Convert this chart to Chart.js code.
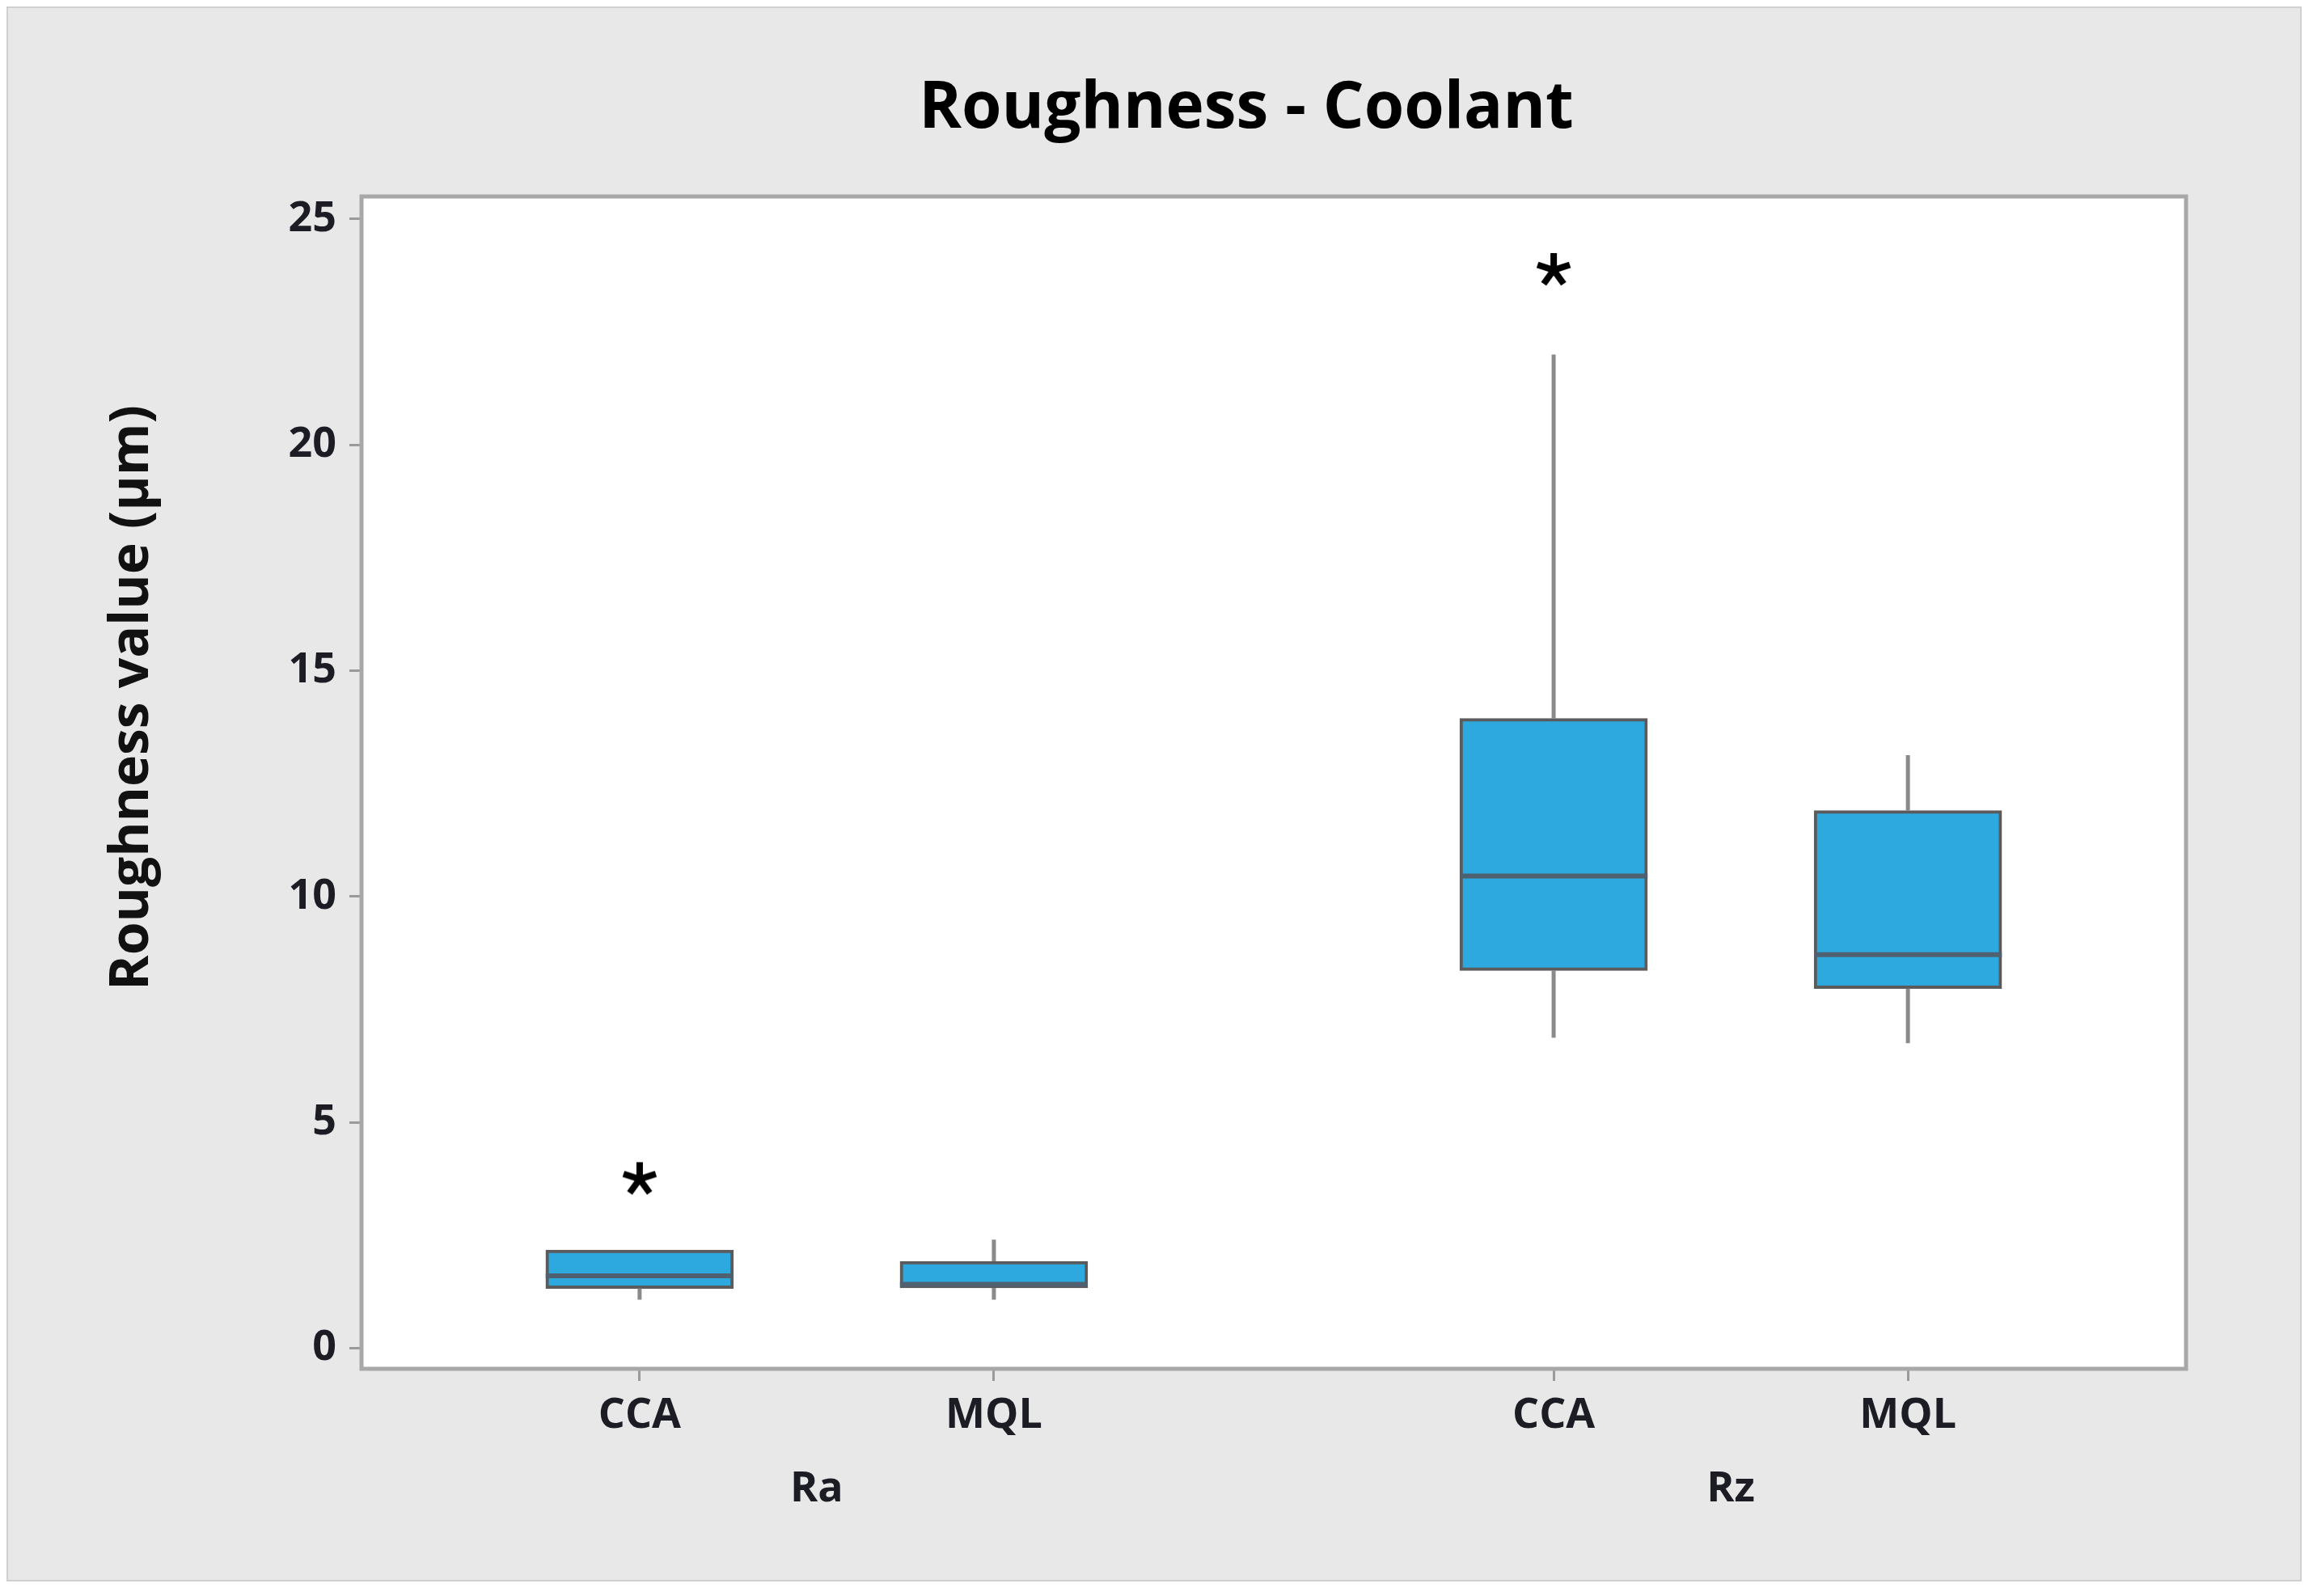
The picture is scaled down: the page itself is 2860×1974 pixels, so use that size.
<!DOCTYPE html>
<html>
<head>
<meta charset="utf-8">
<title>Roughness - Coolant</title>
<script src="https://cdn.jsdelivr.net/npm/chart.js@4.4.1/dist/chart.umd.min.js"></script>
<style>
  html, body { margin: 0; padding: 0; background: #fff; }
  #wrap { width: 2860px; height: 1974px; }
</style>
</head>
<body>
<div id="wrap"><canvas id="chart" width="2860" height="1974"></canvas></div>
<script>
// values
const categories = ['CCA', 'MQL', 'CCA', 'MQL'];
const groupOf = [0, 0, 1, 1];
const groupLabels = ['Ra', 'Rz'];
const whiskerLow = [1.07, 1.07, 6.87, 6.75];
const q1 = [1.32, 1.33, 8.36, 7.96];
const median = [1.60, 1.41, 10.45, 8.71];
const q3 = [2.17, 1.92, 13.94, 11.90];
const whiskerHigh = [2.17, 2.40, 22.0, 13.13];
const outliers = [[3.74], [], [23.87], []];
const yTicks = [0, 5, 10, 15, 20, 25];

// layout (x units along the category axis)
const GROUP_STEP = 2.58;
const X_PAD = 0.785;
const BOX_HALF = 0.265;
const BOX_PX = 232;

const pos = categories.map((c, i) => 1 + (i - groupOf[i] * 2) + groupOf[i] * GROUP_STEP);
const groupPos = groupLabels.map((g, k) => {
  const p = pos.filter((v, i) => groupOf[i] === k);
  return (p[0] + p[p.length - 1]) / 2;
});

const FONT = "'Open Sans', 'Noto Sans', sans-serif";

function makeAsterisk(size, lw) {
  const c = document.createElement('canvas');
  c.width = c.height = size;
  const g = c.getContext('2d');
  g.strokeStyle = '#000';
  g.lineWidth = lw;
  g.translate(size / 2, size / 2);
  const r = size / 2 - 1;
  for (let k = 0; k < 5; k++) {
    const ang = -Math.PI / 2 + k * 2 * Math.PI / 5;
    g.beginPath();
    g.moveTo(0, 0);
    g.lineTo(r * Math.cos(ang), r * Math.sin(ang));
    g.stroke();
  }
  return c;
}

const boxData = pos.map((p, i) => ({ x: p, y: [q1[i], q3[i]] }));
const whiskerData = [];
pos.forEach((p, i) => {
  whiskerData.push({ x: p, y: whiskerLow[i] }, { x: p, y: q1[i] }, { x: p, y: null });
  whiskerData.push({ x: p, y: q3[i] }, { x: p, y: whiskerHigh[i] }, { x: p, y: null });
});
const medianData = [];
pos.forEach((p, i) => {
  medianData.push({ x: p - BOX_HALF, y: median[i] }, { x: p + BOX_HALF, y: median[i] }, { x: p, y: null });
});
const outlierData = [];
outliers.forEach((list, i) => list.forEach(v => outlierData.push({ x: pos[i], y: v })));

const backdrop = {
  id: 'backdrop',
  beforeDraw(chart) {
    const { ctx, chartArea: a, width, height } = chart;
    ctx.save();
    ctx.fillStyle = '#ffffff';
    ctx.fillRect(0, 0, width, height);
    ctx.fillStyle = '#e8e8e8';
    ctx.fillRect(9, 9, 2836, 1946);
    ctx.strokeStyle = '#d0d0d0';
    ctx.lineWidth = 2;
    ctx.strokeRect(9, 9, 2836, 1946);
    ctx.fillStyle = '#ffffff';
    ctx.fillRect(a.left, a.top, a.width, a.height);
    ctx.restore();
  },
  afterDraw(chart) {
    const { ctx, chartArea: a } = chart;
    ctx.save();
    ctx.strokeStyle = '#a8a8a8';
    ctx.lineWidth = 5;
    ctx.strokeRect(a.left, a.top, a.width, a.height);
    // y axis title, sits a bit above the middle like the original
    ctx.translate(164, 863);
    ctx.rotate(-Math.PI / 2);
    ctx.fillStyle = '#111';
    ctx.font = '700 66px ' + FONT;
    ctx.textAlign = 'center';
    ctx.textBaseline = 'middle';
    ctx.fillText('Roughness value (µm)', 0, 0);
    ctx.restore();
  }
};

const tickFont = { family: FONT, size: 52, weight: '700' };

new Chart(document.getElementById('chart'), {
  type: 'bar',
  data: {
    datasets: [
      {
        type: 'bar',
        data: boxData,
        backgroundColor: '#2ea9df',
        borderColor: '#5b5b5b',
        borderWidth: 4,
        borderSkipped: false,
        barThickness: BOX_PX,
        order: 3
      },
      {
        type: 'line',
        data: whiskerData,
        borderColor: '#8a8a8a',
        borderWidth: 5,
        pointRadius: 0,
        spanGaps: false,
        order: 2
      },
      {
        type: 'line',
        data: medianData,
        borderColor: '#4f6170',
        borderWidth: 6,
        pointRadius: 0,
        spanGaps: false,
        order: 1
      },
      {
        type: 'line',
        data: outlierData,
        showLine: false,
        pointStyle: makeAsterisk(44, 8),
        pointRadius: 22,
        order: 0
      }
    ]
  },
  options: {
    responsive: false,
    devicePixelRatio: 1,
    animation: false,
    layout: { padding: { left: 222, right: 0, top: 0, bottom: 61 } },
    plugins: {
      legend: { display: false },
      tooltip: { enabled: false },
      title: {
        display: true,
        text: 'Roughness - Coolant',
        color: '#000',
        font: { family: FONT, size: 80, weight: '700' },
        padding: { top: 87, bottom: 60 }
      }
    },
    scales: {
      x: {
        type: 'linear',
        position: 'bottom',
        offset: false,
        min: pos[0] - X_PAD,
        max: pos[pos.length - 1] + X_PAD,
        afterBuildTicks: s => { s.ticks = pos.map(v => ({ value: v })); },
        afterFit: s => { s.height = 100; },
        ticks: {
          autoSkip: false,
          maxRotation: 0,
          padding: 12,
          color: '#1c1c24',
          font: tickFont,
          callback: (v, i) => categories[i]
        },
        grid: { offset: false, drawOnChartArea: false, drawTicks: true, tickLength: 15, color: '#9a9a9a', lineWidth: 3 },
        border: { display: false }
      },
      x2: {
        type: 'linear',
        position: 'bottom',
        offset: false,
        min: pos[0] - X_PAD,
        max: pos[pos.length - 1] + X_PAD,
        afterBuildTicks: s => { s.ticks = groupPos.map(v => ({ value: v })); },
        afterFit: s => { s.height = 120; },
        ticks: {
          autoSkip: false,
          maxRotation: 0,
          padding: 18,
          color: '#1c1c24',
          font: tickFont,
          callback: (v, i) => groupLabels[i]
        },
        grid: { display: false, drawTicks: false },
        border: { display: false }
      },
      y: {
        type: 'linear',
        position: 'left',
        min: -0.46,
        max: 25.5,
        afterBuildTicks: s => { s.ticks = yTicks.map(v => ({ value: v })); },
        afterFit: s => { s.width = 225; },
        ticks: {
          padding: 16,
          color: '#1c1c24',
          font: tickFont
        },
        grid: { drawOnChartArea: false, drawTicks: true, tickLength: 15, color: '#9a9a9a', lineWidth: 3 },
        border: { display: false }
      },
      // empty right-hand box so the title centres where the original does
      yRight: {
        type: 'linear',
        position: 'right',
        afterFit: s => { s.width = 157; },
        ticks: { display: false },
        grid: { display: false, drawTicks: false },
        border: { display: false }
      }
    }
  },
  plugins: [backdrop]
});
</script>
</body>
</html>
